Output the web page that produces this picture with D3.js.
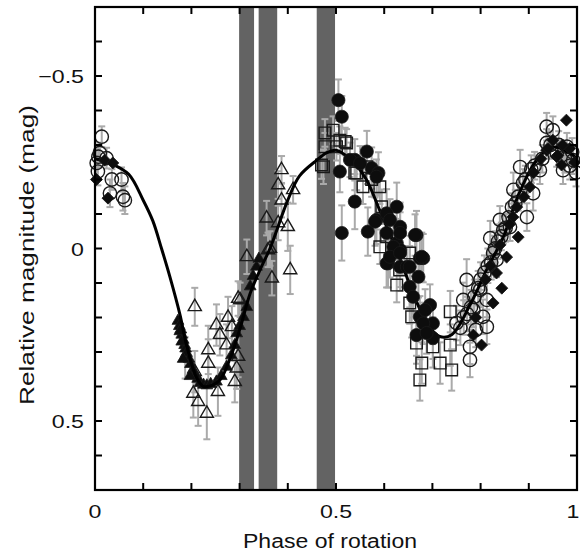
<!DOCTYPE html>
<html>
<head>
<meta charset="utf-8">
<script src="https://cdn.jsdelivr.net/npm/d3@7"></script>
<style>
  body { margin: 0; background: #fff; }
  svg text { font-family: "Liberation Sans", Arial, sans-serif; fill: #111; }
</style>
</head>
<body>
<div id="chart"></div>
<script>
// ---- data ----
// excluded phase windows (grey bands)
const bandStart = [0.299, 0.3395, 0.46];
const bandEnd = [0.330, 0.378, 0.498];

// fitted lightcurve
const fitPhase = [0.00, 0.035, 0.07, 0.10, 0.12, 0.138, 0.155, 0.176, 0.19, 0.211, 0.225, 0.245, 0.26, 0.28, 0.30, 0.322, 0.343, 0.363, 0.40, 0.424, 0.46, 0.48, 0.50, 0.52, 0.54, 0.563, 0.591, 0.63, 0.66, 0.69, 0.715, 0.74, 0.78, 0.813, 0.847, 0.88, 0.916, 0.95, 0.985, 1.0];
const fitMag = [-0.26, -0.245, -0.215, -0.14, -0.08, 0.0, 0.08, 0.19, 0.28, 0.375, 0.40, 0.395, 0.38, 0.32, 0.236, 0.13, 0.06, 0.0, -0.14, -0.21, -0.256, -0.277, -0.285, -0.27, -0.245, -0.2, -0.11, 0.02, 0.13, 0.22, 0.255, 0.25, 0.158, 0.06, -0.033, -0.16, -0.256, -0.294, -0.277, -0.26];

// open circles (with error bars)
const ocPhase = [0.014, 0.01, 0.0035, 0.006, 0.035, 0.055, 0.031, 0.058, 0.062, 0.007, 0.024, 0.771, 0.778, 0.778, 0.785, 0.764, 0.82, 0.826, 0.84, 0.847, 0.861, 0.868, 0.882, 0.896, 0.909, 0.923, 0.937, 0.95, 0.937, 0.971, 0.992, 0.958, 0.979, 0.805, 0.813, 0.833, 0.799, 0.75, 0.79, 0.813, 0.998, 0.985,
  0.758, 0.765, 0.772, 0.78, 0.787, 0.795, 0.8, 0.808, 0.815, 0.822, 0.83, 0.836, 0.843, 0.852, 0.858, 0.865, 0.872, 0.878, 0.888, 0.893, 0.905, 0.912, 0.928, 0.945, 0.962, 0.975, 0.99];
const ocMag = [-0.324, -0.277, -0.248, -0.223, -0.2, -0.2, -0.16, -0.15, -0.14, -0.266, -0.262, 0.091, 0.285, 0.323, 0.178, 0.149, -0.03, 0.013, -0.083, -0.054, -0.062, -0.17, -0.236, -0.091, -0.16, -0.227, -0.353, -0.343, -0.306, -0.227, -0.256, -0.277, -0.295, 0.198, 0.149, 0.033, 0.12, 0.216, 0.236, 0.227, -0.22, -0.24,
  0.23, 0.2, 0.19, 0.17, 0.14, 0.115, 0.09, 0.07, 0.05, 0.04, 0.0, -0.02, -0.035, -0.06, -0.09, -0.12, -0.13, -0.15, -0.19, -0.2, -0.23, -0.24, -0.26, -0.3, -0.3, -0.26, -0.28];
const ocErr = [0.03, 0.03, 0.04, 0.04, 0.03, 0.035, 0.04, 0.04, 0.04, 0.03, 0.03, 0.06, 0.05, 0.05, 0.05, 0.05, 0.05, 0.05, 0.04, 0.04, 0.04, 0.05, 0.05, 0.04, 0.05, 0.04, 0.04, 0.04, 0.04, 0.04, 0.04, 0.04, 0.04, 0.05, 0.05, 0.05, 0.05, 0.05, 0.05, 0.05, 0.04, 0.04,
  0.05, 0.05, 0.05, 0.05, 0.05, 0.05, 0.05, 0.05, 0.05, 0.05, 0.05, 0.05, 0.04, 0.04, 0.04, 0.04, 0.04, 0.04, 0.04, 0.04, 0.04, 0.04, 0.04, 0.04, 0.04, 0.04, 0.04];

// filled diamonds
const fdPhase = [0.003, 0.027, 0.02, 0.037, 0.978, 0.802, 0.785, 0.826, 0.844, 0.878, 0.95, 0.958, 0.968, 0.937, 0.867, 0.902, 0.854, 0.833, 0.985, 0.995,
  0.79, 0.81, 0.82, 0.84, 0.86, 0.875, 0.89, 0.91, 0.925, 0.94, 0.96, 0.97];
const fdMag = [-0.2, -0.146, -0.256, -0.248, -0.372, 0.28, 0.251, 0.158, 0.115, -0.033, -0.314, -0.266, -0.242, -0.285, -0.091, -0.178, 0.025, 0.071, -0.29, -0.25,
  0.2, 0.09, 0.05, -0.01, -0.07, -0.12, -0.15, -0.22, -0.26, -0.29, -0.27, -0.3];

// filled triangles
const ftPhase = [0.172, 0.175, 0.178, 0.18, 0.183, 0.186, 0.188, 0.19, 0.195, 0.198, 0.203, 0.208, 0.213, 0.218, 0.225, 0.232, 0.24, 0.252, 0.262, 0.273, 0.283, 0.29, 0.294, 0.3, 0.308, 0.315, 0.322, 0.328, 0.335, 0.34, 0.183, 0.197, 0.176, 0.18];
const ftMag = [0.21, 0.225, 0.235, 0.25, 0.265, 0.28, 0.29, 0.303, 0.32, 0.335, 0.352, 0.365, 0.378, 0.39, 0.395, 0.397, 0.393, 0.386, 0.37, 0.343, 0.31, 0.28, 0.246, 0.225, 0.199, 0.17, 0.11, 0.08, 0.053, 0.03, 0.32, 0.37, 0.24, 0.27];

// open triangles (with error bars)
const otPhase = [0.207, 0.252, 0.276, 0.259, 0.235, 0.235, 0.273, 0.297, 0.294, 0.29, 0.204, 0.214, 0.232, 0.255, 0.187, 0.207, 0.301, 0.284, 0.405, 0.367, 0.315, 0.359, 0.356, 0.38, 0.4, 0.387, 0.363, 0.297, 0.387, 0.38, 0.411];
const otMag = [0.169, 0.222, 0.2, 0.25, 0.294, 0.333, 0.28, 0.313, 0.347, 0.386, 0.42, 0.444, 0.478, 0.415, 0.317, 0.357, 0.149, 0.227, 0.062, 0.086, 0.024, 0.004, -0.088, -0.074, -0.063, -0.14, 0.0, 0.145, -0.228, -0.184, -0.17];
const otErr = [0.055, 0.06, 0.06, 0.06, 0.07, 0.07, 0.06, 0.06, 0.06, 0.06, 0.07, 0.07, 0.075, 0.07, 0.06, 0.06, 0.05, 0.06, 0.07, 0.05, 0.05, 0.05, 0.05, 0.05, 0.07, 0.05, 0.05, 0.05, 0.04, 0.04, 0.04];

// open squares (with error bars)
const osPhase = [0.477, 0.494, 0.519, 0.474, 0.477, 0.501, 0.539, 0.556, 0.574, 0.591, 0.595, 0.591, 0.605, 0.653, 0.632, 0.626, 0.653, 0.657, 0.667, 0.678, 0.674, 0.701, 0.716, 0.74, 0.737, 0.737, 0.508, 0.522, 0.47, 0.543, 0.564];
const osMag = [-0.335, -0.343, -0.31, -0.237, -0.295, -0.295, -0.219, -0.179, -0.2, -0.179, -0.121, -0.005, -0.034, 0.013, 0.062, 0.106, 0.158, 0.198, 0.274, 0.332, 0.381, 0.285, 0.332, 0.352, 0.28, 0.183, -0.314, -0.306, -0.242, -0.219, -0.237];
const osErr = [0.04, 0.04, 0.04, 0.05, 0.04, 0.04, 0.05, 0.05, 0.05, 0.05, 0.05, 0.05, 0.05, 0.05, 0.05, 0.05, 0.06, 0.06, 0.06, 0.06, 0.06, 0.06, 0.06, 0.06, 0.06, 0.06, 0.04, 0.04, 0.04, 0.05, 0.05];

// filled circles (with error bars)
const fcPhase = [0.505, 0.512, 0.564, 0.539, 0.508, 0.574, 0.588, 0.539, 0.512, 0.626, 0.584, 0.605, 0.566, 0.633, 0.605, 0.667, 0.626, 0.681, 0.608, 0.633, 0.664, 0.674, 0.671, 0.647, 0.653, 0.695, 0.674, 0.701, 0.667, 0.701, 0.605, 0.633, 0.581, 0.678,
  0.529, 0.55, 0.584, 0.612, 0.619, 0.612, 0.633, 0.653, 0.633, 0.66, 0.681, 0.688, 0.685];
const fcMag = [-0.43, -0.382, -0.281, -0.257, -0.223, -0.233, -0.219, -0.136, -0.045, -0.121, -0.083, -0.102, -0.049, -0.063, -0.045, -0.039, -0.016, 0.028, 0.043, 0.053, -0.039, 0.028, 0.082, 0.053, 0.111, 0.164, 0.198, 0.217, 0.251, 0.26, 0.043, 0.004, -0.078, 0.024,
  -0.257, -0.247, -0.208, -0.083, -0.005, 0.024, 0.013, 0.053, -0.045, 0.14, 0.217, 0.245, 0.178];
const fcErr = [0.06, 0.06, 0.06, 0.06, 0.06, 0.06, 0.06, 0.08, 0.08, 0.07, 0.07, 0.07, 0.07, 0.07, 0.07, 0.07, 0.07, 0.07, 0.07, 0.07, 0.06, 0.06, 0.06, 0.06, 0.06, 0.06, 0.06, 0.06, 0.06, 0.06, 0.07, 0.07, 0.07, 0.07,
  0.05, 0.05, 0.05, 0.06, 0.06, 0.06, 0.06, 0.06, 0.06, 0.06, 0.06, 0.06, 0.06];

const xTickValues = [0, 0.5, 1];
const xTickLabels = ['0', '0.5', '1'];
const yTickValues = [-0.5, 0, 0.5];
const yTickLabels = ['\u22120.5', '0', '0.5'];

// ---- layout ----
const width = 580, height = 553;
const plotL = 95, plotR = 577, plotT = 7, plotB = 490;

const x = d3.scaleLinear().domain([0, 1]).range([plotL, plotR]);
const y = d3.scaleLinear().domain([-0.7, 0.7]).range([plotT, plotB]);

const svg = d3.select('#chart').append('svg')
  .attr('width', width)
  .attr('height', height);

// grey bands
svg.append('g').selectAll('rect')
  .data(d3.zip(bandStart, bandEnd))
  .join('rect')
  .attr('x', d => x(d[0]))
  .attr('width', d => x(d[1]) - x(d[0]))
  .attr('y', plotT)
  .attr('height', plotB - plotT)
  .attr('fill', '#636363');

function pts(ph, mg, er) {
  return ph.map((p, i) => ({ p, m: mg[i], e: er ? er[i] : 0 }));
}

const openCircles = pts(ocPhase, ocMag, ocErr);
const openTri = pts(otPhase, otMag, otErr);
const openSq = pts(osPhase, osMag, osErr);
const filledCirc = pts(fcPhase, fcMag, fcErr);
const filledDia = pts(fdPhase, fdMag);
const filledTri = pts(ftPhase, ftMag);

// error bars
function errorBars(data) {
  const g = svg.append('g')
    .attr('stroke', '#aaaaaa')
    .attr('stroke-width', 2)
    .attr('fill', 'none');
  data.forEach(d => {
    const x0 = x(d.p), y1 = y(d.m - d.e), y2 = y(d.m + d.e);
    g.append('line').attr('x1', x0).attr('x2', x0).attr('y1', y1).attr('y2', y2);
    g.append('line').attr('x1', x0 - 3.5).attr('x2', x0 + 3.5).attr('y1', y1).attr('y2', y1);
    g.append('line').attr('x1', x0 - 3.5).attr('x2', x0 + 3.5).attr('y1', y2).attr('y2', y2);
  });
}
errorBars(openCircles);
errorBars(openTri);
errorBars(openSq);
errorBars(filledCirc);

function markers(data, type, size, fill, rotate) {
  svg.append('g').selectAll('path')
    .data(data)
    .join('path')
    .attr('d', d3.symbol().type(type).size(size))
    .attr('transform', d => `translate(${x(d.p)},${y(d.m)})` + (rotate ? ` rotate(${rotate})` : ''))
    .attr('fill', fill)
    .attr('stroke', '#1a1a1a')
    .attr('stroke-width', fill === 'none' ? 1.4 : 0.8);
}

markers(openCircles, d3.symbolCircle, 140, 'none');
markers(openTri, d3.symbolTriangle, 75, 'none');
markers(openSq, d3.symbolSquare, 135, 'none');
markers(filledTri, d3.symbolTriangle, 60, '#0d0d0d');

// fit curve
const line = d3.line()
  .x(d => x(d[0]))
  .y(d => y(d[1]))
  .curve(d3.curveCatmullRom.alpha(0.5));
svg.append('path')
  .datum(d3.zip(fitPhase, fitMag))
  .attr('d', line)
  .attr('fill', 'none')
  .attr('stroke', '#000')
  .attr('stroke-width', 3);

markers(filledCirc, d3.symbolCircle, 135, '#0d0d0d');
markers(filledDia, d3.symbolSquare, 72, '#0d0d0d', 45);

// frame
svg.append('rect')
  .attr('x', plotL).attr('y', plotT)
  .attr('width', plotR - plotL).attr('height', plotB - plotT)
  .attr('fill', 'none').attr('stroke', '#000').attr('stroke-width', 2.2);

// ticks (inward, all four sides)
const xt = d3.range(1, 10).map(i => i / 10);
const yt = d3.range(-6, 7).map(i => i / 10);
const tk = svg.append('g').attr('stroke', '#000').attr('stroke-width', 2);
const tl = 7;
xt.forEach(v => {
  tk.append('line').attr('x1', x(v)).attr('x2', x(v)).attr('y1', plotB).attr('y2', plotB - tl);
  tk.append('line').attr('x1', x(v)).attr('x2', x(v)).attr('y1', plotT).attr('y2', plotT + tl);
});
yt.forEach(v => {
  tk.append('line').attr('x1', plotL).attr('x2', plotL + tl).attr('y1', y(v)).attr('y2', y(v));
  tk.append('line').attr('x1', plotR).attr('x2', plotR - tl).attr('y1', y(v)).attr('y2', y(v));
});

// tick labels (the source type is a little wider than Liberation Sans)
const sx = 1.22;
svg.append('g').selectAll('text')
  .data(xTickValues)
  .join('text')
  .attr('transform', d => `translate(${Math.min(x(d), 573)},518) scale(${sx},1)`)
  .attr('text-anchor', 'middle')
  .attr('font-size', 19)
  .text((d, i) => xTickLabels[i]);

svg.append('g').selectAll('text')
  .data(yTickValues)
  .join('text')
  .attr('transform', d => `translate(84,${y(d) + 7}) scale(${sx},1)`)
  .attr('text-anchor', 'end')
  .attr('font-size', 19)
  .text((d, i) => yTickLabels[i]);

// axis titles
svg.append('text')
  .attr('x', 330)
  .attr('y', 548)
  .attr('text-anchor', 'middle')
  .attr('font-size', 20)
  .attr('textLength', 174)
  .attr('lengthAdjust', 'spacingAndGlyphs')
  .text('Phase of rotation');

svg.append('text')
  .attr('transform', 'translate(34,255) rotate(-90)')
  .attr('text-anchor', 'middle')
  .attr('font-size', 21)
  .attr('textLength', 300)
  .attr('lengthAdjust', 'spacingAndGlyphs')
  .text('Relative magnitude (mag)');
</script>
</body>
</html>
